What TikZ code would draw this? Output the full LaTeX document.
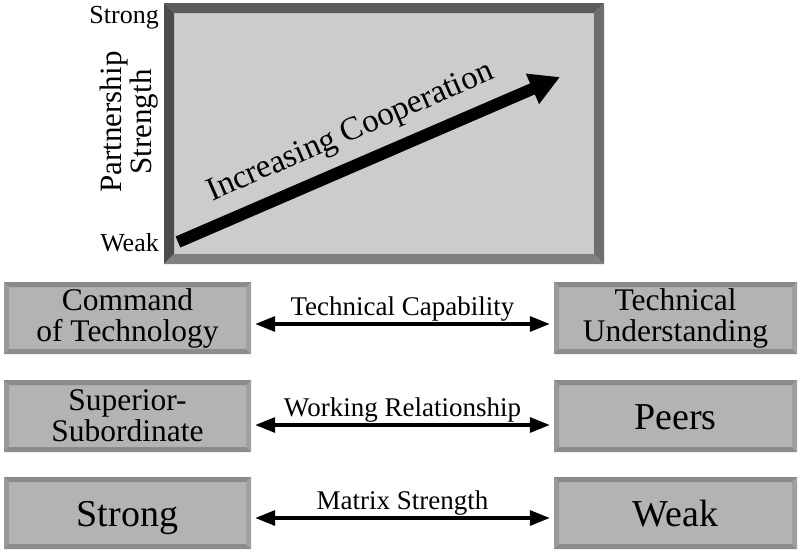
\documentclass[tikz,border=0pt]{standalone}
\usepackage{fontspec}
\setmainfont{Liberation Serif}
\usetikzlibrary{arrows.meta}
\definecolor{panelfill}{HTML}{CCCCCC}
\definecolor{ptop}{HTML}{5C5C5C}
\definecolor{pleft}{HTML}{4C4C4C}
\definecolor{pbottom}{HTML}{818181}
\definecolor{pright}{HTML}{6E6E6E}
\definecolor{boxfill}{HTML}{B3B3B3}
\definecolor{btop}{HTML}{8A8A8A}
\definecolor{bleft}{HTML}{999999}
\definecolor{bbottom}{HTML}{8C8C8C}
\definecolor{bright}{HTML}{A0A0A0}
\newcommand\bevelpic[5]{%
 \fill[#2] (path picture bounding box.north west) -- (path picture bounding box.north east) -- ([xshift=-#1,yshift=-#1]path picture bounding box.north east) -- ([xshift=#1,yshift=-#1]path picture bounding box.north west) -- cycle;
 \fill[#3] (path picture bounding box.north west) -- ([xshift=#1,yshift=-#1]path picture bounding box.north west) -- ([xshift=#1,yshift=#1]path picture bounding box.south west) -- (path picture bounding box.south west) -- cycle;
 \fill[#4] (path picture bounding box.south west) -- ([xshift=#1,yshift=#1]path picture bounding box.south west) -- ([xshift=-#1,yshift=#1]path picture bounding box.south east) -- (path picture bounding box.south east) -- cycle;
 \fill[#5] (path picture bounding box.south east) -- ([xshift=-#1,yshift=#1]path picture bounding box.south east) -- ([xshift=-#1,yshift=-#1]path picture bounding box.north east) -- (path picture bounding box.north east) -- cycle;
}
\tikzset{
 panel/.style={rectangle, inner sep=0pt, fill=panelfill, minimum width=440pt, minimum height=261pt,
   path picture={\bevelpic{10pt}{ptop}{pleft}{pbottom}{pright}}},
 sbox/.style={rectangle, inner sep=0pt, fill=boxfill, minimum height=72pt, align=center,
   font=\fontsize{31.5}{31}\selectfont,
   path picture={\bevelpic{5pt}{btop}{bleft}{bbottom}{bright}}},
 bigword/.style={font=\fontsize{38}{40}\selectfont, text height=26pt, text depth=-2pt},
 link/.style={{Triangle[length=20pt,width=15pt]}-{Triangle[length=20pt,width=15pt]}, line width=3.3pt},
 linklabel/.style={above, inner sep=1pt, font=\fontsize{27}{29}\selectfont},
 axislabel/.style={anchor=east, inner sep=0pt, font=\fontsize{26}{28}\selectfont},
}
\begin{document}
\begin{tikzpicture}[x=1pt,y=-1pt]
\useasboundingbox (0,0) rectangle (800,552);
% top panel
\node[panel] (panel) at (384,133.5) {};
\coordinate (atail) at (178,242);
\coordinate (ahead) at (560,77);
\draw[line width=12pt, -{Triangle[length=30pt,width=31pt]}] (atail) -- (ahead);
\node[rotate=23.4, inner sep=0pt, font=\fontsize{33}{35}\selectfont] (coop) at (351,133) {Increasing Cooperation};
% axis labels
\node[axislabel] (strongax) at (159,18) {Strong};
\node[axislabel] (weakax) at (159,243) {Weak};
\node[rotate=90, align=center, inner sep=0pt, font=\fontsize{31}{30}\selectfont] (pstrength) at (129,122) {Partnership\\Strength};
% row 1
\node[sbox, minimum width=247pt] (cmd) at (127.5,318) {Command\\of Technology};
\node[sbox, minimum width=243pt] (tu) at (675.5,318) {Technical\\Understanding};
\draw[link] ([xshift=4pt,yshift=-6pt]cmd.east) -- node[linklabel] {Technical Capability} ([xshift=-4pt,yshift=-6pt]tu.west);
% row 2
\node[sbox, minimum width=247pt] (sup) at (127.5,416) {Superior-\\Subordinate};
\node[sbox, minimum width=243pt, bigword] (peers) at (675.5,416) {Peers};
\draw[link] ([xshift=4pt,yshift=-9pt]sup.east) -- node[linklabel] {Working Relationship} ([xshift=-4pt,yshift=-9pt]peers.west);
% row 3
\node[sbox, minimum width=247pt, bigword] (strong) at (127.5,513) {Strong};
\node[sbox, minimum width=243pt, bigword] (weak) at (675.5,513) {Weak};
\draw[link] ([xshift=4pt,yshift=-5pt]strong.east) -- node[linklabel] {Matrix Strength} ([xshift=-4pt,yshift=-5pt]weak.west);
\end{tikzpicture}
\end{document}
